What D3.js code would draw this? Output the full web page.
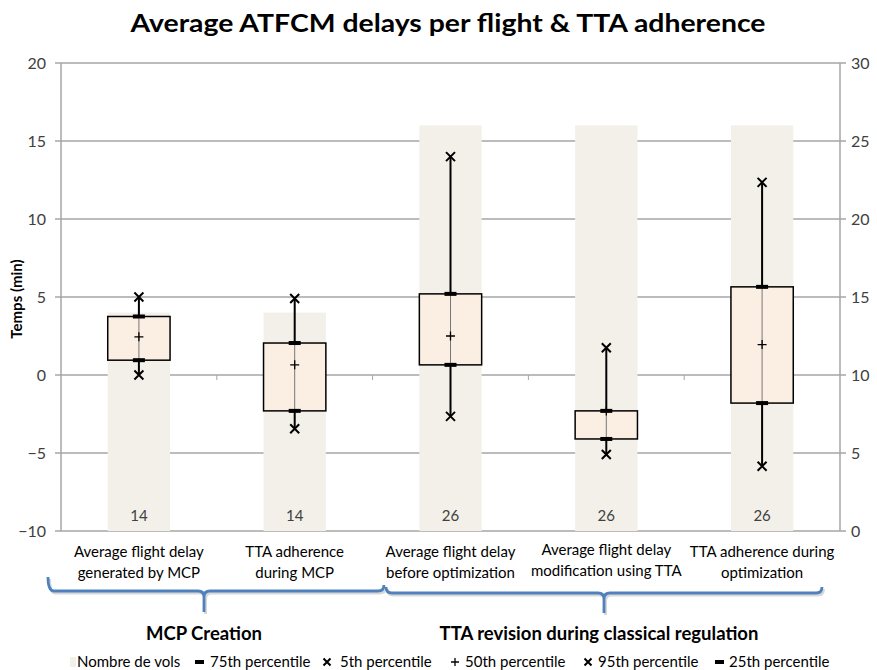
<!DOCTYPE html>
<html>
<head>
<meta charset="utf-8">
<script src="https://cdn.jsdelivr.net/npm/d3@7"></script>
<style>
  html, body { margin: 0; padding: 0; background: #ffffff; }
  svg { display: block; font-family: Lato, "Open Sans", sans-serif; }
</style>
</head>
<body>
<svg id="chart" width="877" height="670"></svg>
<script>
// ---------------- DATA ----------------
const categories = [
  ["Average flight delay", "generated by MCP"],
  ["TTA adherence", "during MCP"],
  ["Average flight delay", "before optimization"],
  ["Average flight delay", "modification using TTA"],
  ["TTA adherence during", "optimization"]
];
const nombreDeVols = [14, 14, 26, 26, 26];
const p95 = [5.0, 4.9, 14.0, 1.75, 12.35];
const p75 = [3.75, 2.05, 5.2, -2.3, 5.65];
const p50 = [2.45, 0.65, 2.5, -2.3, 1.95];
const p25 = [0.95, -2.3, 0.65, -4.1, -1.8];
const p5  = [0.0, -3.45, -2.65, -5.1, -5.85];

const leftTicks = [-10, -5, 0, 5, 10, 15, 20];
const rightTicks = [0, 5, 10, 15, 20, 25, 30];

const groups = [
  { label: "MCP Creation", from: 0, to: 1 },
  { label: "TTA revision during classical regulation", from: 2, to: 4 }
];
const legendItems = [
  { key: "bar", label: "Nombre de vols" },
  { key: "dash", label: "75th percentile" },
  { key: "x", label: "5th percentile" },
  { key: "plus", label: "50th percentile" },
  { key: "x", label: "95th percentile" },
  { key: "dash", label: "25th percentile" }
];

// ---------------- LAYOUT ----------------
const L = 61, R = 840, T = 63, B = 531;
const gridColor = "#a6a6a6";
const barFill = "#f2f0e8";
const boxFill = "#fbefe3";
const textColor = "#404040";
const braceColor = "#4f81bd";

const svg = d3.select("#chart");

const idx = d3.range(categories.length);
const x = d3.scaleBand().domain(idx).range([L, R]).paddingInner(0).paddingOuter(0);
const yL = d3.scaleLinear().domain([-10, 20]).range([B, T]);
const yR = d3.scaleLinear().domain([0, 30]).range([B, T]);
const bw = x.bandwidth() * 0.4;
const cx = i => x(i) + x.bandwidth() / 2;

// Title
svg.append("text")
  .attr("x", 448).attr("y", 32)
  .attr("text-anchor", "middle")
  .attr("font-size", 25.5).attr("font-weight", "bold")
  .attr("fill", "#000")
  .attr("textLength", 635).attr("lengthAdjust", "spacingAndGlyphs")
  .text("Average ATFCM delays per flight & TTA adherence");

// Gridlines
svg.append("g").selectAll("line").data(leftTicks).join("line")
  .attr("x1", L - 6).attr("x2", R + 6)
  .attr("y1", d => yL(d)).attr("y2", d => yL(d))
  .attr("stroke", gridColor).attr("stroke-width", 1.5);

// Axis lines
svg.append("line").attr("x1", L).attr("x2", L).attr("y1", T).attr("y2", B)
  .attr("stroke", gridColor).attr("stroke-width", 1.5);
svg.append("line").attr("x1", R).attr("x2", R).attr("y1", T).attr("y2", B)
  .attr("stroke", gridColor).attr("stroke-width", 1.5);

// Left tick labels
const axL = d3.axisLeft(yL).tickValues(leftTicks).tickSize(0).tickPadding(15);
const gL = svg.append("g").attr("transform", `translate(${L},0)`).call(axL);
gL.select(".domain").remove();
gL.selectAll("text").attr("font-size", 16).attr("fill", textColor)
  .attr("font-family", "Lato, sans-serif");

// Right tick labels
const axR = d3.axisRight(yR).tickValues(rightTicks).tickSize(0).tickPadding(11);
const gR = svg.append("g").attr("transform", `translate(${R},0)`).call(axR);
gR.select(".domain").remove();
gR.selectAll("text").attr("font-size", 16).attr("fill", textColor)
  .attr("font-family", "Lato, sans-serif");

// Y title
svg.append("text")
  .attr("transform", `translate(22,299) rotate(-90)`)
  .attr("text-anchor", "middle")
  .attr("font-size", 15).attr("font-weight", "bold").attr("fill", "#000")
  .text("Temps (min)");

// Bars (Nombre de vols, secondary axis)
svg.append("g").selectAll("rect").data(idx).join("rect")
  .attr("x", i => cx(i) - bw / 2)
  .attr("width", bw)
  .attr("y", i => yR(nombreDeVols[i]))
  .attr("height", i => yR(0) - yR(nombreDeVols[i]))
  .attr("fill", barFill);

// Category ticks on zero line
svg.append("g").selectAll("line").data(idx.slice(1)).join("line")
  .attr("x1", i => x(i)).attr("x2", i => x(i))
  .attr("y1", yL(0)).attr("y2", yL(0) + 5)
  .attr("stroke", gridColor).attr("stroke-width", 1);

// Count labels
svg.append("g").selectAll("text").data(idx).join("text")
  .attr("x", i => cx(i)).attr("y", yR(0) - 10)
  .attr("text-anchor", "middle")
  .attr("font-size", 15).attr("fill", textColor)
  .text(i => nombreDeVols[i]);

// Whiskers
svg.append("g").selectAll("line").data(idx).join("line")
  .attr("x1", i => cx(i)).attr("x2", i => cx(i))
  .attr("y1", i => yL(p95[i])).attr("y2", i => yL(p5[i]))
  .attr("stroke", "#000").attr("stroke-width", 2);

// Boxes
svg.append("g").selectAll("rect").data(idx).join("rect")
  .attr("x", i => cx(i) - bw / 2)
  .attr("width", bw)
  .attr("y", i => yL(p75[i]))
  .attr("height", i => yL(p25[i]) - yL(p75[i]))
  .attr("fill", boxFill)
  .attr("stroke", "#000").attr("stroke-width", 1.5);

// thin line inside boxes
svg.append("g").selectAll("line").data(idx).join("line")
  .attr("x1", i => cx(i)).attr("x2", i => cx(i))
  .attr("y1", i => yL(p75[i])).attr("y2", i => yL(p25[i]))
  .attr("stroke", "#777").attr("stroke-width", 1);

// Markers
function dash(g, px, py) {
  g.append("rect").attr("x", px - 6).attr("y", py - 2).attr("width", 12).attr("height", 4).attr("fill", "#000");
}
function cross(g, px, py, s) {
  g.append("path").attr("d", `M${px - s},${py - s}L${px + s},${py + s}M${px - s},${py + s}L${px + s},${py - s}`)
    .attr("stroke", "#000").attr("stroke-width", 2).attr("fill", "none");
}
function plus(g, px, py, s) {
  g.append("path").attr("d", `M${px - s},${py}L${px + s},${py}M${px},${py - s}L${px},${py + s}`)
    .attr("stroke", "#000").attr("stroke-width", 1.3).attr("fill", "none");
}
const gm = svg.append("g");
idx.forEach(i => {
  dash(gm, cx(i), yL(p75[i]));
  dash(gm, cx(i), yL(p25[i]));
  plus(gm, cx(i), yL(p50[i]), 4.5);
  cross(gm, cx(i), yL(p5[i]), 4.5);
  cross(gm, cx(i), yL(p95[i]), 4.5);
});

// Category labels
const gc = svg.append("g");
idx.forEach(i => {
  const t = gc.append("text").attr("text-anchor", "middle")
    .attr("font-size", 15).attr("fill", "#000");
  const lines = categories[i];
  const yBase = i === 3 ? 555 : 557;
  lines.forEach((ln, k) => {
    t.append("tspan").attr("x", cx(i)).attr("y", yBase + k * 20.5).text(ln);
  });
});

// Braces
const braces = [
  { x0: 48, x1: 384, tip: 204, y: 591, yTip: 612, yEnd: 577 },
  { x0: 386, x1: 822, tip: 604, y: 593, yTip: 613, yEnd: 587 }
];
const gb = svg.append("g");
braces.forEach((b, k) => {
  const r = 6;
  const d = `M${b.x0},${b.yEnd} Q${b.x0},${b.y} ${b.x0 + r},${b.y} L${b.tip - r},${b.y} Q${b.tip},${b.y} ${b.tip},${b.y + r} L${b.tip},${b.yTip}` +
            ` M${b.tip},${b.y + r} Q${b.tip},${b.y} ${b.tip + r},${b.y} L${b.x1 - r},${b.y} Q${b.x1},${b.y} ${b.x1},${b.y - r}`;
  gb.append("path").attr("d", d).attr("transform", "translate(1.5,2)")
    .attr("stroke", "#c8c8c8").attr("stroke-width", 3).attr("fill", "none").attr("opacity", 0.7);
  gb.append("path").attr("d", d)
    .attr("stroke", braceColor).attr("stroke-width", 2.8).attr("fill", "none");
  gb.append("text").attr("x", b.tip + (k === 0 ? 0 : -5)).attr("y", 640)
    .attr("text-anchor", "middle").attr("font-size", 18.5).attr("font-weight", "bold")
    .attr("fill", "#000").text(groups[k].label);
});

// Legend
const legX = [70, 195, 327, 455, 588, 715];
const legT = [77, 210, 340, 465, 598, 729];
const gLeg = svg.append("g");
const ly = 662;
legendItems.forEach((it, k) => {
  const lx = legX[k];
  if (it.key === "bar") {
    gLeg.append("rect").attr("x", lx).attr("y", ly - 5).attr("width", 6).attr("height", 10).attr("fill", barFill);
  } else if (it.key === "dash") {
    gLeg.append("rect").attr("x", lx).attr("y", ly - 2).attr("width", 9).attr("height", 4).attr("fill", "#000");
  } else if (it.key === "x") {
    cross(gLeg, lx, ly, 3.5);
  } else {
    plus(gLeg, lx, ly, 4);
  }
  gLeg.append("text").attr("x", legT[k]).attr("y", ly + 5).attr("font-size", 15).attr("fill", "#000").text(it.label);
});
</script>
</body>
</html>
